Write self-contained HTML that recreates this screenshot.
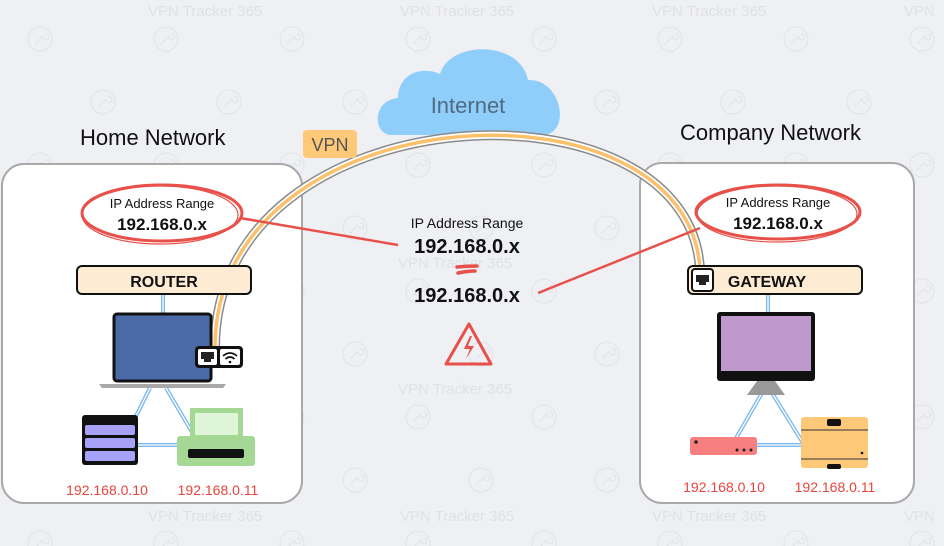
<!DOCTYPE html>
<html><head><meta charset="utf-8"><style>
html,body{margin:0;padding:0;background:#eff0f4;}
svg{display:block;font-family:"Liberation Sans",sans-serif;}
</style></head><body>
<svg width="944" height="546" viewBox="0 0 944 546" xmlns="http://www.w3.org/2000/svg">
<defs>
<pattern id="wm" x="10" y="-6" width="126" height="126" patternUnits="userSpaceOnUse">
<g fill="none" stroke="#e2e3e8" stroke-width="1.1">
<circle cx="30" cy="45" r="12"/><circle cx="93" cy="108" r="12"/>
<path d="M25 50 L33 42 M33 42 a3 3 0 1 0 2 -2" /><path d="M88 113 L96 105 M96 105 a3 3 0 1 0 2 -2"/>
</g>
</pattern>
</defs>
<rect width="944" height="546" fill="#eff0f4"/>
<rect width="944" height="546" fill="url(#wm)"/>
<g fill="#e0e1e6" font-size="15">
<text x="148" y="16">VPN Tracker 365</text><text x="400" y="16">VPN Tracker 365</text><text x="652" y="16">VPN Tracker 365</text><text x="904" y="16">VPN</text>
<text x="398" y="268">VPN Tracker 365</text>
<text x="398" y="394">VPN Tracker 365</text>
<text x="148" y="521">VPN Tracker 365</text><text x="400" y="521">VPN Tracker 365</text><text x="652" y="521">VPN Tracker 365</text><text x="904" y="521">VPN</text>
</g>

<!-- boxes -->
<rect x="2" y="164" width="300" height="339" rx="22" fill="#fff" stroke="#a9a9a9" stroke-width="2"/>
<rect x="640" y="163" width="274" height="340" rx="22" fill="#fff" stroke="#a9a9a9" stroke-width="2"/>

<text x="80" y="145" font-size="22" fill="#111">Home Network</text>
<text x="680" y="140" font-size="22" fill="#111">Company Network</text>

<!-- cloud -->
<path d="M392 135 C372 135 372 100 398 98 C398 75 420 65 440 74 C450 40 520 40 528 80 C560 78 572 130 545 135 Z" fill="#8fcdfa"/>
<text x="468" y="113" font-size="22" fill="#4f6b80" text-anchor="middle">Internet</text>

<!-- VPN arc -->
<path d="M215 348 C215 90 690 70 700 270" fill="none" stroke="#8a8a8a" stroke-width="10"/>
<path d="M215 348 C215 90 690 70 700 270" fill="none" stroke="#fff" stroke-width="7"/>
<path d="M215 348 C215 90 690 70 700 270" fill="none" stroke="#fdc06a" stroke-width="3.5"/>
<rect x="303" y="130" width="54" height="28" rx="4" fill="#fdc979"/>
<text x="330" y="151" font-size="18" fill="#555" text-anchor="middle">VPN</text>

<!-- red lines -->
<line x1="240" y1="218" x2="398" y2="245" stroke="#e8504a" stroke-width="2.5"/>
<line x1="538" y1="293" x2="700" y2="228" stroke="#e8504a" stroke-width="2.5"/>

<!-- ellipses -->
<ellipse cx="162" cy="213" rx="80" ry="28" fill="#fff" stroke="#e8504a" stroke-width="3"/>
<ellipse cx="160" cy="215" rx="78" ry="29" fill="none" stroke="#e8504a" stroke-width="1.2"/>
<text x="162" y="208" font-size="13" text-anchor="middle" fill="#111">IP Address Range</text>
<text x="162" y="230" font-size="17" font-weight="bold" text-anchor="middle" fill="#111">192.168.0.x</text>
<ellipse cx="778" cy="212" rx="82" ry="27" fill="#fff" stroke="#e8504a" stroke-width="3"/>
<ellipse cx="777" cy="214" rx="80" ry="28" fill="none" stroke="#e8504a" stroke-width="1.2"/>
<text x="778" y="207" font-size="13" text-anchor="middle" fill="#111">IP Address Range</text>
<text x="778" y="229" font-size="17" font-weight="bold" text-anchor="middle" fill="#111">192.168.0.x</text>

<!-- blue double connectors -->
<g stroke="#7ab8ee" stroke-width="4" fill="none">
<line x1="163" y1="294" x2="163" y2="314"/><line x1="150" y1="388" x2="135" y2="418"/><line x1="166" y1="388" x2="192" y2="432"/><line x1="138" y1="445" x2="180" y2="445"/>
<line x1="768" y1="294" x2="768" y2="312"/><line x1="762" y1="393" x2="735" y2="440"/><line x1="772" y1="393" x2="803" y2="443"/><line x1="757" y1="445" x2="801" y2="445"/>
</g>
<g stroke="#fff" stroke-width="1.3" fill="none">
<line x1="163" y1="294" x2="163" y2="314"/><line x1="150" y1="388" x2="135" y2="418"/><line x1="166" y1="388" x2="192" y2="432"/><line x1="138" y1="445" x2="180" y2="445"/>
<line x1="768" y1="294" x2="768" y2="312"/><line x1="762" y1="393" x2="735" y2="440"/><line x1="772" y1="393" x2="803" y2="443"/><line x1="757" y1="445" x2="801" y2="445"/>
</g>

<!-- router / gateway -->
<rect x="77" y="266" width="174" height="28" rx="5" fill="#fdebd3" stroke="#111" stroke-width="2"/>
<text x="164" y="287" font-size="16" font-weight="bold" text-anchor="middle" fill="#111">ROUTER</text>
<rect x="688" y="266" width="174" height="28" rx="5" fill="#fdebd3" stroke="#111" stroke-width="2"/>
<text x="767" y="287" font-size="16" font-weight="bold" text-anchor="middle" fill="#111">GATEWAY</text>
<rect x="692" y="269" width="21" height="22" rx="3" fill="#fff" stroke="#111" stroke-width="2"/>
<path d="M696 275 h13 v7 h-3 v3 h-7 v-3 h-3 Z" fill="#222"/>

<!-- laptop -->
<rect x="114" y="314" width="97" height="67" rx="3" fill="#4a6aa8" stroke="#111" stroke-width="3"/>
<path d="M99 384 h127 l-3 4 h-121 Z" fill="#a8a8a8"/>
<rect x="195" y="346" width="48" height="22" rx="4" fill="#111"/>
<rect x="198" y="349" width="19" height="16" rx="2" fill="#fff"/>
<path d="M201 352 h13 v7 h-3 v3 h-7 v-3 h-3 Z" fill="#222"/>
<rect x="220" y="349" width="20" height="16" rx="2" fill="#fff"/>
<g fill="none" stroke="#111" stroke-width="1.6"><path d="M223 356 q7 -6 14 0"/><path d="M225.5 359 q4.5 -4 9 0"/></g>
<circle cx="230" cy="362" r="1.3" fill="#111"/>

<!-- server -->
<rect x="82" y="415" width="56" height="50" rx="3" fill="#111"/>
<rect x="85" y="425" width="50" height="10" rx="2" fill="#a7a2f5"/>
<rect x="85" y="438" width="50" height="10" rx="2" fill="#a7a2f5"/>
<rect x="85" y="451" width="50" height="10" rx="2" fill="#a7a2f5"/>

<!-- printer -->
<rect x="190" y="408" width="53" height="30" fill="#a5d795"/>
<rect x="195" y="413" width="43" height="22" fill="#dff5d8"/>
<rect x="177" y="436" width="78" height="30" rx="3" fill="#a5d795"/>
<rect x="188" y="449" width="56" height="9" rx="2" fill="#111"/>

<text x="107" y="495" font-size="14" fill="#e8453c" text-anchor="middle">192.168.0.10</text>
<text x="218" y="495" font-size="14" fill="#e8453c" text-anchor="middle">192.168.0.11</text>

<!-- monitor -->
<rect x="717" y="312" width="98" height="69" rx="3" fill="#111"/>
<rect x="721" y="316" width="90" height="55" fill="#c099cc"/>
<path d="M757 381 h18 l10 14 h-38 Z" fill="#999"/>

<!-- red router -->
<rect x="690" y="437" width="67" height="18" rx="3" fill="#f77f80"/>
<circle cx="696" cy="442" r="1.8" fill="#222"/>
<circle cx="737" cy="450" r="1.5" fill="#222"/><circle cx="744" cy="450" r="1.5" fill="#222"/><circle cx="751" cy="450" r="1.5" fill="#222"/>

<!-- yellow box -->
<rect x="801" y="417" width="67" height="51" rx="3" fill="#fdc979"/>
<line x1="801" y1="430" x2="868" y2="430" stroke="#333" stroke-width="1"/>
<line x1="801" y1="459" x2="868" y2="459" stroke="#333" stroke-width="1"/>
<rect x="827" y="419" width="14" height="7" rx="2" fill="#111"/>
<rect x="827" y="464" width="14" height="5" rx="2" fill="#111"/>
<circle cx="862" cy="453" r="1.3" fill="#111"/>

<text x="724" y="492" font-size="14" fill="#e8453c" text-anchor="middle">192.168.0.10</text>
<text x="835" y="492" font-size="14" fill="#e8453c" text-anchor="middle">192.168.0.11</text>

<!-- center -->
<text x="467" y="228" font-size="14" text-anchor="middle" fill="#111">IP Address Range</text>
<text x="467" y="253" font-size="20" font-weight="bold" text-anchor="middle" fill="#111">192.168.0.x</text>
<path d="M457 267 q10 -1 20 -1 M458 273 q10 -2 17 -2" stroke="#e8504a" stroke-width="3.5" fill="none" stroke-linecap="round"/>
<text x="467" y="302" font-size="20" font-weight="bold" text-anchor="middle" fill="#111">192.168.0.x</text>
<path d="M469 324 L491 364 L446 364 Z" fill="none" stroke="#e8504a" stroke-width="3" stroke-linejoin="round"/>
<path d="M470 336 L464 349 L470 349 L466 359 L474 346 L468 346 L472 336 Z" fill="#e8504a"/>
</svg>
</body></html>
